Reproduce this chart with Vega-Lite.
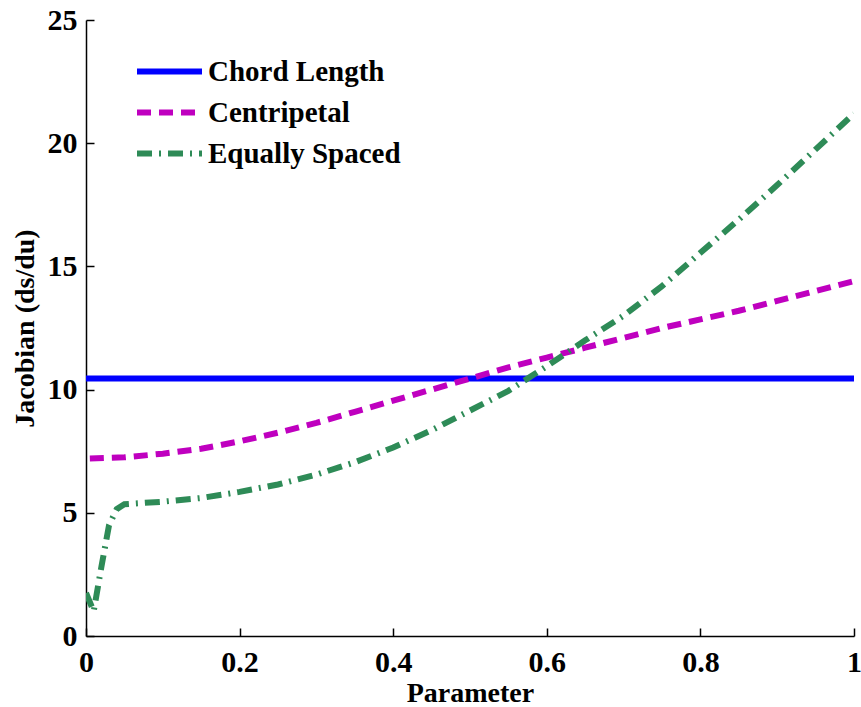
{
  "$schema": "https://vega.github.io/schema/vega-lite/v6.json",
  "width": 768,
  "height": 616,
  "autosize": "none",
  "padding": {"left": 86, "top": 20, "right": 7, "bottom": 71},
  "background": "white",
  "config": {
    "view": {"stroke": null},
    "font": "Liberation Serif",
    "axis": {
      "grid": false,
      "domainColor": "black",
      "domainWidth": 1.5,
      "tickColor": "black",
      "tickWidth": 1.5,
      "tickSize": -8,
      "labelFont": "Liberation Serif",
      "labelFontWeight": "bold",
      "labelFontSize": 30,
      "labelColor": "black",
      "titleFont": "Liberation Serif",
      "titleFontWeight": "bold",
      "titleFontSize": 28,
      "titleColor": "black"
    }
  },
  "data": {
    "values": [
      {"u": 0, "J": 10.45, "series": "Chord Length"},
      {"u": 0.25, "J": 10.45, "series": "Chord Length"},
      {"u": 0.5, "J": 10.45, "series": "Chord Length"},
      {"u": 0.75, "J": 10.45, "series": "Chord Length"},
      {"u": 1, "J": 10.45, "series": "Chord Length"},
      {"u": 0.005, "J": 7.2, "series": "Centripetal"},
      {"u": 0.05, "J": 7.25, "series": "Centripetal"},
      {"u": 0.1, "J": 7.4, "series": "Centripetal"},
      {"u": 0.15, "J": 7.6, "series": "Centripetal"},
      {"u": 0.2, "J": 7.9, "series": "Centripetal"},
      {"u": 0.25, "J": 8.25, "series": "Centripetal"},
      {"u": 0.3, "J": 8.65, "series": "Centripetal"},
      {"u": 0.35, "J": 9.1, "series": "Centripetal"},
      {"u": 0.4, "J": 9.55, "series": "Centripetal"},
      {"u": 0.45, "J": 10.0, "series": "Centripetal"},
      {"u": 0.5, "J": 10.45, "series": "Centripetal"},
      {"u": 0.55, "J": 10.9, "series": "Centripetal"},
      {"u": 0.6, "J": 11.3, "series": "Centripetal"},
      {"u": 0.65, "J": 11.7, "series": "Centripetal"},
      {"u": 0.7, "J": 12.1, "series": "Centripetal"},
      {"u": 0.75, "J": 12.5, "series": "Centripetal"},
      {"u": 0.8, "J": 12.85, "series": "Centripetal"},
      {"u": 0.85, "J": 13.2, "series": "Centripetal"},
      {"u": 0.9, "J": 13.6, "series": "Centripetal"},
      {"u": 0.95, "J": 14.0, "series": "Centripetal"},
      {"u": 1, "J": 14.4, "series": "Centripetal"},
      {"u": 0, "J": 1.75, "series": "Equally Spaced"},
      {"u": 0.01, "J": 1.0, "series": "Equally Spaced"},
      {"u": 0.02, "J": 2.8, "series": "Equally Spaced"},
      {"u": 0.03, "J": 4.5, "series": "Equally Spaced"},
      {"u": 0.04, "J": 5.15, "series": "Equally Spaced"},
      {"u": 0.05, "J": 5.35, "series": "Equally Spaced"},
      {"u": 0.1, "J": 5.45, "series": "Equally Spaced"},
      {"u": 0.15, "J": 5.6, "series": "Equally Spaced"},
      {"u": 0.2, "J": 5.85, "series": "Equally Spaced"},
      {"u": 0.25, "J": 6.15, "series": "Equally Spaced"},
      {"u": 0.3, "J": 6.55, "series": "Equally Spaced"},
      {"u": 0.35, "J": 7.05, "series": "Equally Spaced"},
      {"u": 0.4, "J": 7.65, "series": "Equally Spaced"},
      {"u": 0.45, "J": 8.35, "series": "Equally Spaced"},
      {"u": 0.5, "J": 9.15, "series": "Equally Spaced"},
      {"u": 0.55, "J": 9.95, "series": "Equally Spaced"},
      {"u": 0.6, "J": 10.95, "series": "Equally Spaced"},
      {"u": 0.65, "J": 12.0, "series": "Equally Spaced"},
      {"u": 0.7, "J": 13.0, "series": "Equally Spaced"},
      {"u": 0.75, "J": 14.2, "series": "Equally Spaced"},
      {"u": 0.8, "J": 15.55, "series": "Equally Spaced"},
      {"u": 0.85, "J": 16.9, "series": "Equally Spaced"},
      {"u": 0.9, "J": 18.3, "series": "Equally Spaced"},
      {"u": 0.95, "J": 19.75, "series": "Equally Spaced"},
      {"u": 1, "J": 21.2, "series": "Equally Spaced"}
    ]
  },
  "mark": {"type": "line", "strokeWidth": 6, "clip": true},
  "encoding": {
    "x": {
      "field": "u",
      "type": "quantitative",
      "title": "Parameter",
      "scale": {"domain": [0, 1], "nice": false, "zero": false},
      "axis": {"values": [0, 0.2, 0.4, 0.6, 0.8, 1], "format": "~g", "labelPadding": 19, "titlePadding": 2, "labelFlush": false}
    },
    "y": {
      "field": "J",
      "type": "quantitative",
      "title": "Jacobian (ds/du)",
      "scale": {"domain": [0, 25], "nice": false},
      "axis": {"values": [0, 5, 10, 15, 20, 25], "labelPadding": 17, "titlePadding": 8}
    },
    "color": {
      "field": "series",
      "type": "nominal",
      "sort": ["Chord Length", "Centripetal", "Equally Spaced"],
      "scale": {"domain": ["Chord Length", "Centripetal", "Equally Spaced"], "range": ["#0000ff", "#bf00bf", "#2e8b57"]},
      "legend": {
        "orient": "none",
        "legendX": 64,
        "legendY": 32,
        "title": null,
        "padding": 0,
        "symbolType": "M-2,0H2",
        "symbolSize": 1056,
        "symbolStrokeWidth": 6,
        "symbolFillColor": "transparent",
        "labelFont": "Liberation Serif",
        "labelFontWeight": "bold",
        "labelFontSize": 29,
        "labelColor": "black",
        "labelOffset": 19,
        "labelLimit": 400,
        "rowPadding": 6
      }
    },
    "strokeDash": {
      "field": "series",
      "type": "nominal",
      "sort": ["Chord Length", "Centripetal", "Equally Spaced"],
      "scale": {"domain": ["Chord Length", "Centripetal", "Equally Spaced"], "range": [[1, 0], [14, 8], [15, 7, 2, 7]]},
      "legend": {
        "orient": "none",
        "legendX": 64,
        "legendY": 32,
        "title": null,
        "padding": 0,
        "symbolType": "M-2,0H2",
        "symbolSize": 1056,
        "symbolStrokeWidth": 6,
        "symbolFillColor": "transparent",
        "labelFont": "Liberation Serif",
        "labelFontWeight": "bold",
        "labelFontSize": 29,
        "labelColor": "black",
        "labelOffset": 19,
        "labelLimit": 400,
        "rowPadding": 6
      }
    }
  }
}
